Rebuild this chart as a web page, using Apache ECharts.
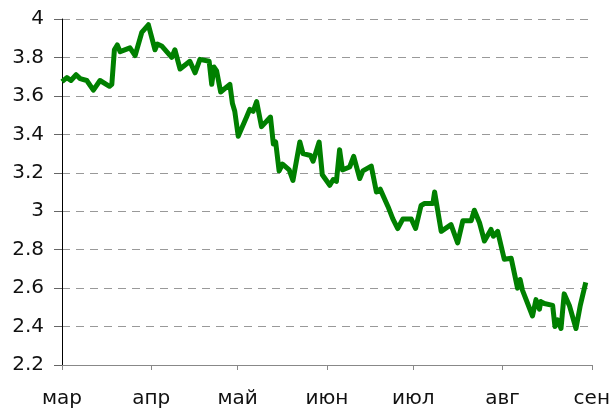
<!DOCTYPE html>
<html>
<head>
<meta charset="utf-8">
<script src="https://cdn.jsdelivr.net/npm/echarts@6/dist/echarts.min.js"></script>
<style>
  html, body { margin: 0; padding: 0; background: #fff; }
  #chart { width: 613px; height: 413px; }
</style>
</head>
<body>
<div id="chart"></div>
<script>
// days counted from 1 March
var monthStarts = [0, 31, 61, 92, 122, 153, 184];
var monthLabels = ['мар', 'апр', 'май', 'июн', 'июл', 'авг', 'сен'];

var dayOffsets = [
  0, 1.7, 3.1, 4.9, 6.3, 8.6, 10.9, 11.5, 13.2, 16.5, 17.3, 18.2, 19.2, 20.2, 23.6, 25.4, 27.7, 30.0,
  32.3, 33.1, 34.6, 38.1, 39.2, 41.0, 44.4, 46.2, 47.9, 51.1, 52.0, 52.8, 53.7, 55.1, 58.3, 59.2, 60.0, 61.2,
  64.1, 65.2, 66.4, 67.6, 69.3, 72.4, 73.4, 74.2, 75.4, 76.6, 78.9, 80.2, 82.6, 83.7, 86.3, 87.2, 89.3, 90.4, 93.0,
  94.2, 95.3, 96.4, 97.4, 99.9, 101.3, 103.4, 104.5, 107.4, 109.2, 110.5, 113.2, 114.9, 116.6, 118.4, 121.3, 122.8, 124.7,
  125.9, 128.8, 129.4, 131.7, 135.1, 137.4, 139.2, 142.1, 143.2, 145.0, 146.7, 149.0, 149.8, 151.3, 153.6, 156.0,
  158.2, 159.1, 159.9, 163.4, 164.6, 165.8, 166.3, 167.5, 170.4, 171.2, 172.1, 173.3, 174.4, 176.2, 178.5, 180.0, 181.9
];
var values = [
  3.674, 3.695, 3.68, 3.71, 3.69, 3.68, 3.63, 3.62, 3.68, 3.65, 3.66, 3.84, 3.865, 3.83, 3.85, 3.81, 3.93, 3.97,
  3.84, 3.87, 3.86, 3.80, 3.84, 3.74, 3.78, 3.72, 3.79, 3.78, 3.66, 3.75, 3.73, 3.62, 3.66, 3.56, 3.52, 3.39,
  3.49, 3.53, 3.52, 3.57, 3.44, 3.49, 3.35, 3.36, 3.21, 3.245, 3.215, 3.16, 3.36, 3.30, 3.29, 3.26, 3.36, 3.19, 3.135,
  3.165, 3.155, 3.32, 3.215, 3.23, 3.285, 3.17, 3.21, 3.235, 3.10, 3.115, 3.025, 2.96, 2.91, 2.96, 2.96, 2.91, 3.03,
  3.04, 3.04, 3.10, 2.895, 2.93, 2.835, 2.95, 2.95, 3.005, 2.94, 2.845, 2.905, 2.87, 2.895, 2.75, 2.755,
  2.60, 2.645, 2.59, 2.455, 2.54, 2.49, 2.53, 2.52, 2.51, 2.40, 2.435, 2.39, 2.57, 2.51, 2.39, 2.51, 2.63
];

var points = dayOffsets.map(function (d, i) { return [d, values[i]]; });

var chart = echarts.init(document.getElementById('chart'));
chart.setOption({
  animation: false,
  textStyle: { fontFamily: 'DejaVu Sans' },
  grid: { left: 62, right: 21, top: 19, bottom: 48 },
  xAxis: {
    type: 'value',
    min: 0,
    max: 184,
    axisLine: { lineStyle: { color: '#888', width: 1 } },
    axisTick: { customValues: monthStarts, length: 5, lineStyle: { color: '#888' } },
    axisLabel: {
      customValues: monthStarts,
      color: '#111',
      fontSize: 20,
      margin: 24,
      formatter: function (v) { return monthLabels[monthStarts.indexOf(v)]; }
    },
    splitLine: { show: false }
  },
  yAxis: {
    type: 'value',
    min: 2.2,
    max: 4,
    interval: 0.2,
    axisLine: { show: true, lineStyle: { color: '#000', width: 1 } },
    axisTick: { show: true, length: 8, lineStyle: { color: '#666' } },
    axisLabel: { color: '#111', fontSize: 20, margin: 18 },
    splitLine: { lineStyle: { color: '#999', type: [8, 6], width: 1 } }
  },
  series: [{
    type: 'line',
    data: points,
    showSymbol: false,
    lineStyle: { color: '#008000', width: 5, join: 'round' }
  }]
});
</script>
</body>
</html>
